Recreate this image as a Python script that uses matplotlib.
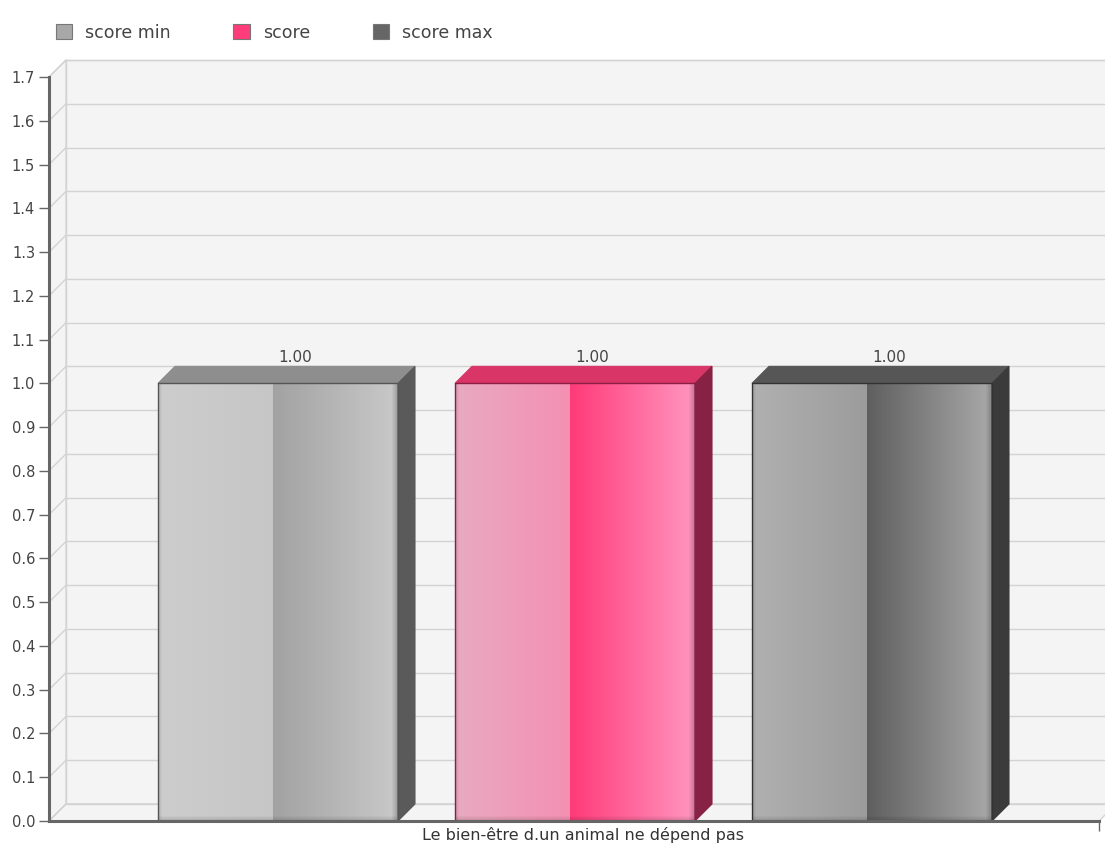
import matplotlib

matplotlib.use("Agg")
import matplotlib.pyplot as plt
import numpy as np
from matplotlib.colors import to_rgb
from matplotlib.patches import Patch, Polygon

# chart data
series = ["score min", "score", "score max"]
values = [1.00, 1.00, 1.00]
category = "Le bien-être d.un animal ne dépend pas"
y_ticks = [i / 10 for i in range(18)]

# colours: (left half start, left half end, right half start, right half end, top, side, edge)
bar_styles = {
    "score min": ("#cdcdcd", "#c6c6c6", "#a2a2a2", "#c9c9c9", "#8e8e8e", "#5a5a5a", "#555555"),
    "score": ("#e8aac0", "#f590b3", "#ff3a79", "#ff96bf", "#d93567", "#872245", "#8b1e45"),
    "score max": ("#b0b0b0", "#9c9c9c", "#5f5f5f", "#a9a9a9", "#565656", "#3b3b3b", "#333333"),
}
legend_colors = {"score min": "#a8a8a8", "score": "#ff3d7a", "score max": "#666666"}

W, H = 1105, 844
DEPTH = 17  # pixels of 3d offset
SPLIT = 0.48  # where the second gradient starts on the bar face
WALL = "#f4f4f4"
GRID = "#d3d3d3"
AXIS = "#666666"


def gradient_image(style: tuple, n_cols: int, n_rows: int) -> np.ndarray:
    l1, l2, r1, r2 = (np.array(to_rgb(c)) for c in style[:4])
    t = np.linspace(0, 1, n_cols)
    half = t < SPLIT
    cols = np.empty((n_cols, 3))
    tl = t[half] / SPLIT
    tr = (t[~half] - SPLIT) / (1 - SPLIT)
    cols[half] = l1 + (l2 - l1) * tl[:, None]
    cols[~half] = r1 + (r2 - r1) * tr[:, None]
    img = np.repeat(cols[None, :, :], n_rows, axis=0)

    # soft darker bevel around the inner edge of the front face
    xx = np.arange(n_cols)
    yy = np.arange(n_rows)
    dist_r = (n_cols - 1 - xx)[None, :].repeat(n_rows, 0)
    dist_l = xx[None, :].repeat(n_rows, 0)
    dist_b = (n_rows - 1 - yy)[:, None].repeat(n_cols, 1)
    shade = np.ones((n_rows, n_cols))
    shade *= 1 - 0.22 * np.clip(1 - dist_r / 6, 0, 1)
    shade *= 1 - 0.12 * np.clip(1 - dist_l / 4, 0, 1)
    shade *= 1 - 0.15 * np.clip(1 - dist_b / 5, 0, 1)
    return np.clip(img * shade[:, :, None], 0, 1)


def plot_chart():
    fig = plt.figure(figsize=(W / 100, H / 100), dpi=100)
    left, right, bottom, top = 49, 1099, 821, 77
    ax = fig.add_axes([left / W, (H - bottom) / H, (right - left) / W, (bottom - top) / H])

    x = np.arange(len(series))
    spacing = 297
    width = 240 / spacing
    xmin = -(278 - left) / spacing
    xmax = len(series) - 1 + (right - 872) / spacing
    ymax = 1.7
    dx = DEPTH / spacing
    dy = DEPTH / ((bottom - top) / ymax)

    ax.set_facecolor("none")
    for side in ["top", "right"]:
        ax.spines[side].set_visible(False)
    for side in ["left", "bottom"]:
        ax.spines[side].set_color(AXIS)
        ax.spines[side].set_linewidth(2.2)
        ax.spines[side].set_zorder(6)

    # walls: back, left side and floor
    back = Polygon([(xmin + dx, dy), (xmax + dx, dy), (xmax + dx, ymax + dy), (xmin + dx, ymax + dy)],
                   closed=True, fc=WALL, ec=GRID, lw=1, clip_on=False, zorder=0)
    side_wall = Polygon([(xmin, 0), (xmin + dx, dy), (xmin + dx, ymax + dy), (xmin, ymax)],
                        closed=True, fc=WALL, ec=GRID, lw=1, clip_on=False, zorder=0)
    floor = Polygon([(xmin, 0), (xmax, 0), (xmax + dx, dy), (xmin + dx, dy)],
                    closed=True, fc=WALL, ec=GRID, lw=1, clip_on=False, zorder=0)
    for p in (back, side_wall, floor):
        ax.add_patch(p)
    for yv in y_ticks:
        ax.plot([xmin + dx, xmax + dx], [yv + dy, yv + dy], color=GRID, lw=1, clip_on=False, zorder=1)
        ax.plot([xmin, xmin + dx], [yv, yv + dy], color=GRID, lw=1, clip_on=False, zorder=1)

    bars = ax.bar(x, values, width=width, facecolor="none", zorder=4)
    for name, bar, val in zip(series, bars, values):
        style = bar_styles[name]
        x0, x1 = bar.get_x(), bar.get_x() + bar.get_width()
        bar.set_edgecolor(style[6])
        bar.set_linewidth(1)
        img = gradient_image(style, 240, 440)
        im = ax.imshow(img, extent=[x0, x1, 0, val], aspect="auto", zorder=3, interpolation="bilinear")
        im.set_clip_path(bar)
        top_face = Polygon([(x0, val), (x1, val), (x1 + dx, val + dy), (x0 + dx, val + dy)],
                           closed=True, fc=style[4], ec=style[4], lw=0.8, zorder=3, clip_on=False)
        side_face = Polygon([(x1, 0), (x1 + dx, dy), (x1 + dx, val + dy), (x1, val)],
                            closed=True, fc=style[5], ec=style[5], lw=0.8, zorder=3, clip_on=False)
        ax.add_patch(top_face)
        ax.add_patch(side_face)
        ax.text(x0 + width / 2 + dx, val + dy + 0.003, f"{val:.2f}", ha="center", va="bottom",
                fontsize=11, color="#444444", zorder=5)

    ax.set_xlim(xmin, xmax)
    ax.set_ylim(0, ymax)
    ax.set_yticks(y_ticks)
    ax.set_yticklabels([f"{v:.1f}" for v in y_ticks])
    ax.tick_params(axis="y", direction="out", length=7, width=1, color=AXIS, pad=3,
                   labelsize=10.5, labelcolor="#444444")
    ax.set_xticks([1 + dx / 2])
    ax.set_xticklabels([category])
    ax.tick_params(axis="x", length=0, pad=4, labelsize=11.5, labelcolor="#333333")
    ax.set_xticks([xmax], minor=True)
    ax.tick_params(axis="x", which="minor", length=7, width=1, color=AXIS)

    handles = [Patch(fc=legend_colors[s], ec="#777777", lw=0.8) for s in series]
    fig.legend(handles, series, loc="upper left", bbox_to_anchor=(40 / W, 1 - 8 / H), ncol=3,
               frameon=False, fontsize=12.5, handlelength=0.95, handleheight=0.95,
               handletextpad=0.75, columnspacing=3.6, labelcolor="#444444")

    fig.savefig("out.png", dpi=100, facecolor="white")


if __name__ == "__main__":
    plot_chart()
